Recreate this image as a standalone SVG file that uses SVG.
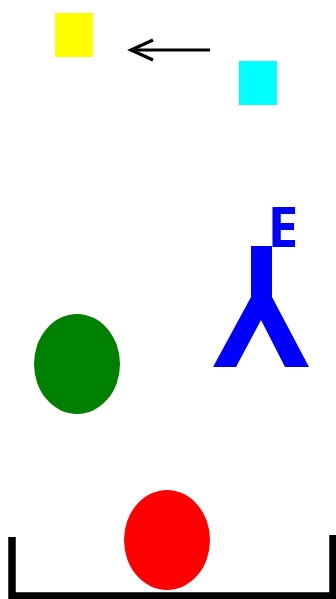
<svg xmlns="http://www.w3.org/2000/svg" width="336" height="599" viewBox="0 0 336 599">
<style>
.conn{fill:none;stroke:#000;stroke-width:3}
.lbl{font-family:"Noto Sans",sans-serif;font-weight:bold;font-size:55px;fill:#0000ff}
</style>
<defs>
<marker id="open" markerUnits="userSpaceOnUse" markerWidth="30" markerHeight="30" refX="26" refY="12" orient="auto">
<path d="M4,2 L26,12 L4,22" fill="none" stroke="#000" stroke-width="3.2"/>
</marker>
</defs>
<rect width="336" height="599" fill="#fff"/>
<g id="yellow"><rect x="55" y="13" width="38" height="44" fill="#ffff00"/></g>
<g id="cyan"><rect x="239" y="61" width="38" height="44" fill="#00ffff"/></g>
<g id="antibody">
<polygon points="251,246 272,246 272,297 309,367 285,367 261,320 236,367 213,367 251,297" fill="#0000ff"/>
<text class="lbl" x="267.5" y="246.7">E</text>
</g>
<g id="green"><ellipse cx="77" cy="364" rx="43" ry="50" fill="#008000"/></g>
<g id="red"><ellipse cx="167" cy="540" rx="43" ry="50" fill="#ff0000"/></g>
<g id="container"><path d="M12,537 V596 H333 V535" fill="none" stroke="#000" stroke-width="7.5"/></g>
<g id="connectors"><path class="conn" d="M210,50 H131" marker-end="url(#open)"/></g>
</svg>
